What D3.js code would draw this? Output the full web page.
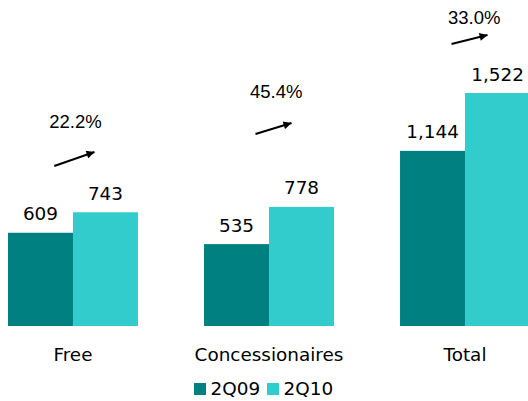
<!DOCTYPE html>
<html><head><meta charset="utf-8">
<script src="https://cdn.jsdelivr.net/npm/d3@7"></script>
<style>body{margin:0;background:#fff}svg{display:block}</style>
</head><body>
<script>
const categories = ["Free", "Concessionaires", "Total"];
const seriesNames = ["2Q09", "2Q10"];
const values2Q09 = [609, 535, 1144];
const values2Q10 = [743, 778, 1522];
const growthLabels = ["22.2%", "45.4%", "33.0%"];
const colors = ["#008080", "#33CCCC"];

const W = 528, H = 401;
const svg = d3.select("body").append("svg").attr("width", W).attr("height", H);

const x0 = d3.scaleBand().domain(categories).range([8, 530]).paddingInner(0.337).paddingOuter(0);
const x1 = d3.scaleBand().domain(seriesNames).range([0, x0.bandwidth()]);
const y = d3.scaleLinear().domain([0, d3.max(values2Q10)]).range([326, 93]);

const series = [values2Q09, values2Q10];
const numFont = "DejaVu Sans, Verdana, sans-serif";
const fs = "18.4px";
const fmt = d3.format(",");

categories.forEach((c, i) => {
  const g = svg.append("g").attr("transform", `translate(${x0(c)},0)`);
  seriesNames.forEach((s, j) => {
    const v = series[j][i];
    g.append("rect").attr("x", x1(s)).attr("y", y(v))
      .attr("width", x1.bandwidth()).attr("height", y(0) - y(v)).attr("fill", colors[j]);
    g.append("text").attr("x", x1(s) + x1.bandwidth() / 2).attr("y", y(v) - 12.5)
      .attr("text-anchor", "middle").attr("font-family", numFont).attr("font-size", fs)
      .attr("fill", "#000").text(fmt(v));
  });
  g.append("text").attr("x", x0.bandwidth() / 2).attr("y", 360.5)
    .attr("text-anchor", "middle").attr("font-family", numFont).attr("font-size", fs)
    .attr("fill", "#000").text(c);
});

// growth annotations (offsets relative to group centre)
const annot = [
  {tx: -23.7, ty: 127.5, ax1: -18.7, ay1: 166, ax2: 21.5, ay2: 152},
  {tx: -19, ty: 98, ax1: -13.5, ay1: 134, ax2: 22.5, ay2: 123},
  {tx: -17, ty: 23.5, ax1: -13.5, ay1: 44, ax2: 22.5, ay2: 35}
];
svg.append("defs").append("marker").attr("id", "ah").attr("viewBox", "0 0 10 10")
  .attr("refX", 10).attr("refY", 5).attr("markerWidth", 4.5).attr("markerHeight", 4)
  .attr("markerUnits", "strokeWidth").attr("orient", "auto")
  .append("path").attr("d", "M0,0L10,5L0,10Z").attr("fill", "#000");

categories.forEach((c, i) => {
  const cx = x0(c) + x0.bandwidth() / 2;
  const a = annot[i];
  svg.append("text").attr("x", cx + a.tx).attr("y", a.ty)
    .attr("font-family", "Liberation Sans Narrow, Arial Narrow, sans-serif").attr("font-size", "18.5px")
    .attr("fill", "#000").text(growthLabels[i]);
  svg.append("line").attr("x1", cx + a.ax1).attr("y1", a.ay1).attr("x2", cx + a.ax2).attr("y2", a.ay2)
    .attr("stroke", "#000").attr("stroke-width", 2).attr("marker-end", "url(#ah)");
});

// legend
const legX = [194, 267];
seriesNames.forEach((s, j) => {
  svg.append("rect").attr("x", legX[j]).attr("y", 383).attr("width", 12).attr("height", 12).attr("fill", colors[j]);
  svg.append("text").attr("x", legX[j] + 16.5).attr("y", 395).attr("font-family", numFont)
    .attr("font-size", fs).attr("fill", "#000").text(s);
});
</script>
</body></html>
